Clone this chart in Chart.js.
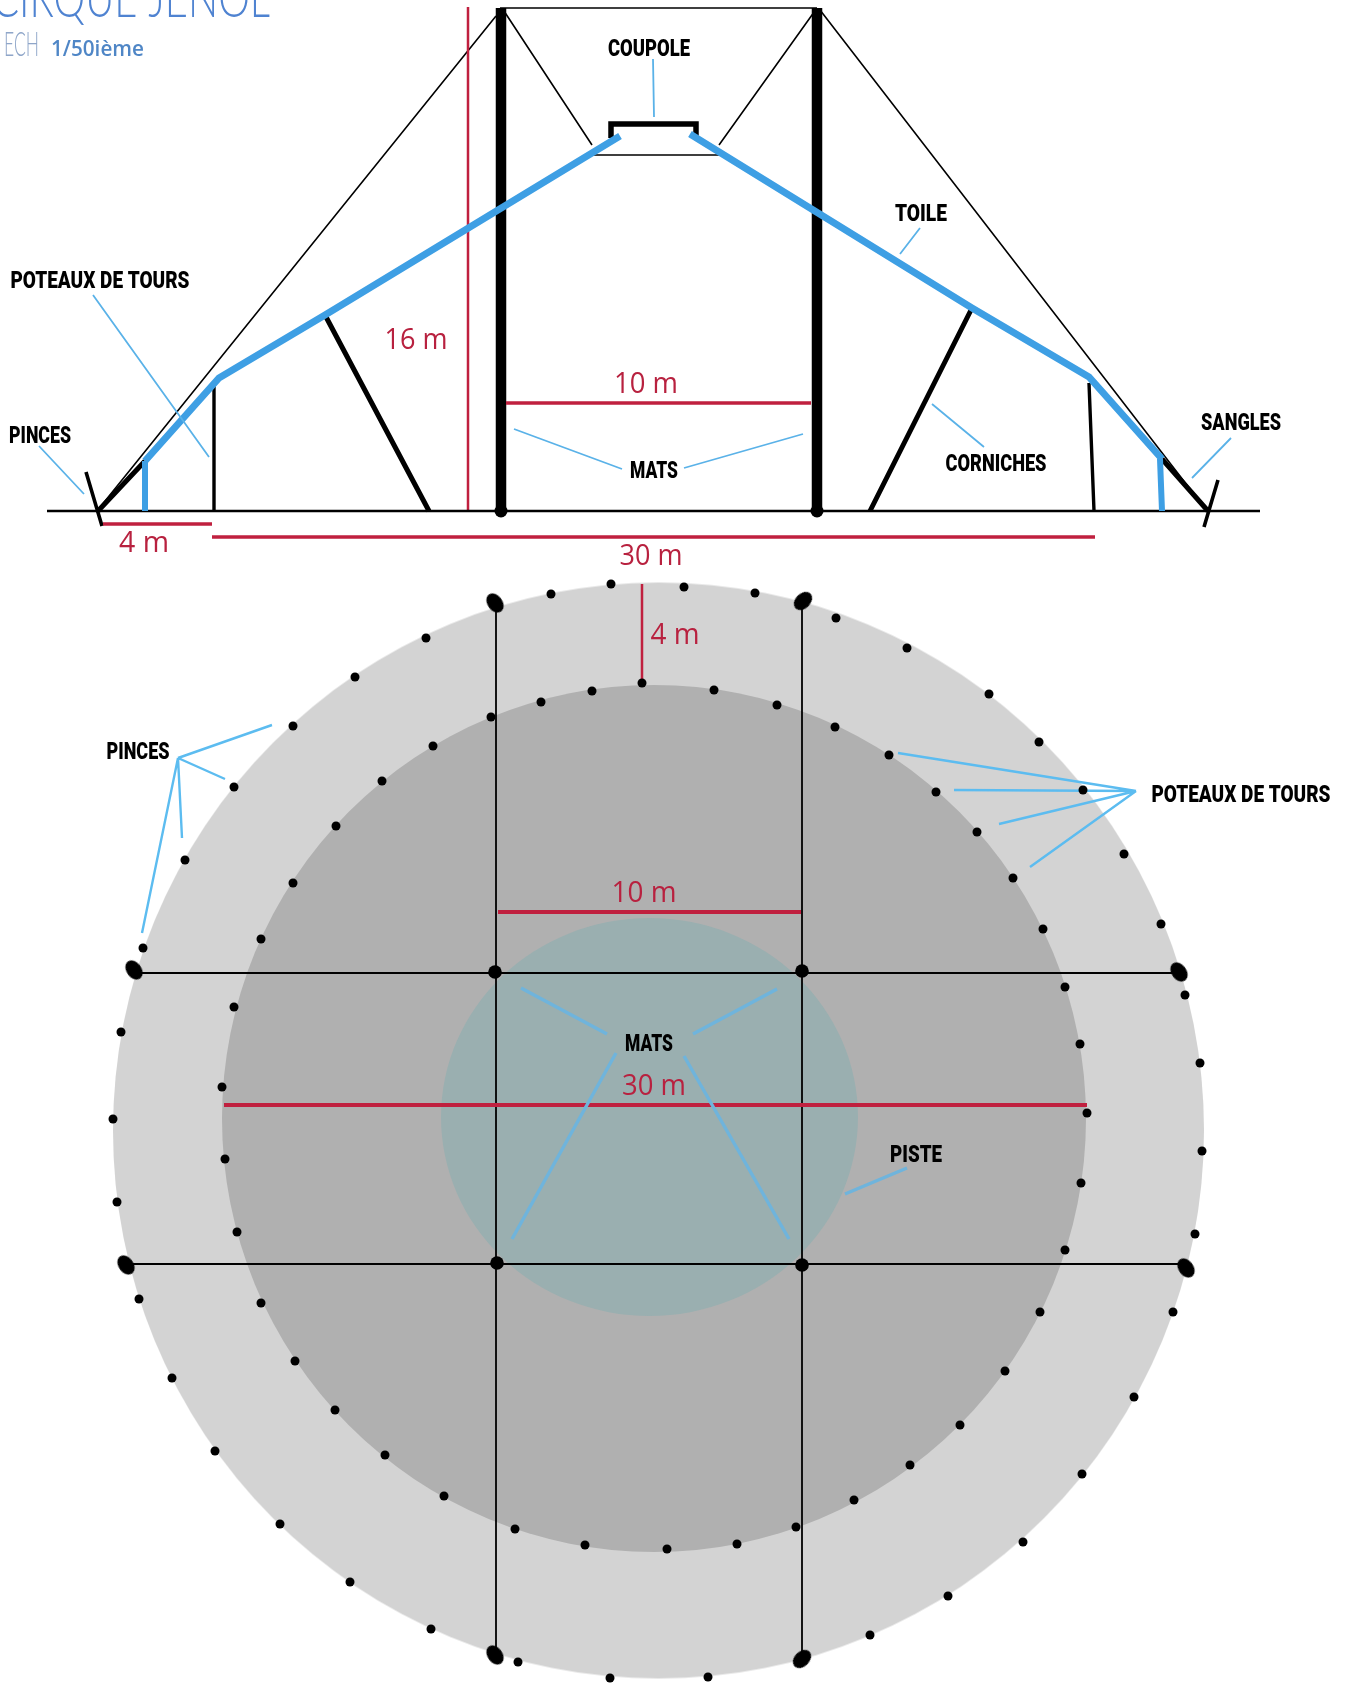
<!DOCTYPE html>
<html>
<head>
<meta charset="utf-8">
<title>Cirque</title>
<script src="https://cdn.jsdelivr.net/npm/chart.js@4/dist/chart.umd.min.js"></script>
<style>
 html, body {margin:0; padding:0; background:#fff;}
 canvas     {display:block;}
</style>
</head>
<body>
<canvas id="chart" width="1350" height="1685"></canvas>
<script>
// PLAN, STAKES AND POLES (x, y in drawing units)
var outer_dots = [[611,584],[684,587],[551,594],[755,593],[836,618],[426,638],[907,648],[355,677],[989,694],[293,726],[1039,742],[234,787],[1083,790],[185,860],[1124,854],[143,948],[1161,924],[121,1032],[1185,995],[113,1119],[1200,1063],[1202,1151],[117,1202],[1195,1234],[139,1299],[1173,1312],[172,1378],[1134,1397],[215,1451],[1082,1474],[280,1524],[1023,1542],[350,1582],[948,1596],[431,1629],[870,1635],[518,1662],[610,1678],[708,1677]];
var inner_dots = [[642,683],[592,691],[714,690],[541,702],[777,705],[491,717],[835,727],[433,746],[889,755],[382,781],[936,792],[336,826],[977,832],[293,883],[1013,878],[261,939],[1043,929],[234,1007],[1065,987],[222,1087],[1080,1044],[225,1159],[1087,1113],[1081,1183],[237,1232],[1065,1250],[261,1303],[1040,1312],[295,1361],[1005,1371],[335,1410],[960,1425],[385,1455],[910,1465],[444,1496],[854,1500],[515,1529],[796,1527],[585,1545],[737,1544],[667,1549]];
var anchor_nw  = [[495,603],[134,970],[126,1265],[1186,1268],[1179,972],[495,1655]];
var anchor_ne  = [[803,601],[802,1659]];
var mast_feet  = [[495,972],[802,971],[497,1263],[802,1265]];

var disc_outer = [[658.5,1130.5]];
var disc_inner = [[654,1118.5]];
var disc_piste = [[649.5,1117]];

var plan_lines = [[496,605,496,1655],[802,601,802,1659],[135,973,1180,973],[126,1264,1186,1264]];
var plan_red_thin  = [[642,584,642,683]];
var plan_red_bars  = [[498,912,801,912],[224,1105,1087,1105]];
var plan_leaders   = [[178,758,272,725],[178,758,225,779],[178,758,182,838],[178,758,142,933],
                      [1136,791,898,753],[1136,791,954,790],[1136,791,999,824],[1136,791,1030,867]];
var piste_leaders  = [[521,988,607,1034],[777,989,693,1034],[616,1053,512,1239],[684,1056,789,1239],[907,1168,845,1194]];

// ELEVATION
var ground     = [[47,511,1260,511]];
var masts      = [[501,8,501,511],[817,8,817,511]];
var mast_base  = [[501,511],[817,511]];
var thin_lines = [[500,8,817,8],[496,16,97,511],[820,10,1207,511],[502,8,592,145],[592,155,719,155],[719,145,817,8]];
var coupole    = [[611,138,611,124,696,124,696,138]];
var canvas_l   = [[620,136,325,315,219,378,145,461]];
var canvas_r   = [[690,134,972,308,1089,377,1162,459]];
var blue_posts = [[145,461,145,511],[1160,459,1162,511]];
var tour_posts = [[214,383,214,511],[1089,383,1094,511]];
var corniches  = [[325,315,429,511],[972,308,870,511]];
var straps     = [[98,511,145,461],[1162,459,1208,511]];
var stakes     = [[86,472,102,526],[1218,480,1204,527]];
var side_red_thin = [[468,7,468,511]];
var side_red_bars = [[103,524,212,524],[212,537,1095,537],[506,403,811,403]];
var side_leaders  = [[93,295,209,457],[653,59,654,117],[920,228,900,254],[39,446,84,494],[1231,438,1192,478],[514,429,622,469],[803,434,684,468],[932,404,984,447]];

// TEXT
var black_labels = [["COUPOLE",649,50,82],["TOILE",921,215,52],["POTEAUX DE TOURS",100,282,179],["PINCES",40,437,62],["SANGLES",1241,424,80],["MATS",654,472,48],["CORNICHES",996,465,101],["PINCES",138,753,63],["POTEAUX DE TOURS",1241,796,179],["MATS",649,1045,48],["PISTE",916,1156,52]];
var red_labels   = [["16 m",416,341,63],["10 m",646,385,64],["4 m",144,544,50],["30 m",651,557,63],["4 m",675,636,49],["10 m",644,894,65],["30 m",654,1087,64]];


function Polyline_Points(lines)
{
 var points = [];
 for(var line of lines)
 {
  for(var i = 0; i < line.length; i += 2) points.push({x:line[i], y:line[i + 1]});
  points.push({x:null, y:null});
 }

 return points;
}


function Dots_Points(dots)
{
 return dots.map(function(dot){return {x:dot[0], y:dot[1]}});
}


function Lines_Dataset(lines, color, width)
{
 return {type:"scatter", showLine:true, data:Polyline_Points(lines), borderColor:color, borderWidth:width, pointRadius:0, spanGaps:false, borderCapStyle:"butt", borderJoinStyle:"miter"};
}


function Dots_Dataset(dots, style)
{
 var dataset = {type:"scatter", data:Dots_Points(dots), showLine:false, borderWidth:0, pointBorderWidth:0};
 return Object.assign(dataset, style);
}


// ELLIPSE AS A POINT IMAGE, THE LIBRARY PLACES IT
function Ellipse_Sprite(rx, ry, color)
{
 var sprite    = document.createElement("canvas");
 sprite.width  = Math.ceil(rx * 2) + 2;
 sprite.height = Math.ceil(ry * 2) + 2;

 var context       = sprite.getContext("2d");
 context.fillStyle = color;
 context.beginPath();
 context.ellipse(sprite.width / 2, sprite.height / 2, rx, ry, 0, 0, Math.PI * 2);
 context.fill();

 return sprite;
}


function Sprite_Style(rx, ry, color, rotation)
{
 return {pointStyle:Ellipse_Sprite(rx, ry, color), pointRadius:4, pointRotation:rotation || 0, backgroundColor:color};
}


var labels_plugin =
{
 id:"labels",
 afterDatasetsDraw: function(chart)
 {
  var context = chart.ctx;
  var x_scale = chart.scales.x;
  var y_scale = chart.scales.y;

  function Draw(text, x, y, width, font, color, baseline)
  {
   context.save();
   context.font         = font;
   context.fillStyle    = color;
   context.textAlign    = "left";
   context.textBaseline = baseline || "middle";

   var scale = width / context.measureText(text).width;
   context.translate(x_scale.getPixelForValue(x), y_scale.getPixelForValue(y));
   context.scale(scale, 1);
   context.fillText(text, 0, 0);
   context.restore();
  }

  for(var label of black_labels) Draw(label[0], label[1] - label[3] / 2, label[2], label[3], "900 23px Roboto", "#000");
  for(var label of red_labels)   Draw(label[0], label[1] - label[3] / 2, label[2], label[3], "29px 'Open Sans'", "#b8213f");

  Draw("CIRQUE JENOL", -8, 17, 278, "300 56px Lato", "#4f83d1", "alphabetic");
  Draw("ECH", 4, 56, 35, "300 33px Lato", "#8fa6c9", "alphabetic");
  Draw("1/50ième", 51, 56, 93, "600 22px 'Open Sans'", "#4f86c6", "alphabetic");
 }
};


var datasets =
[
 Dots_Dataset(disc_outer, Sprite_Style(545.5, 548, "#d3d3d3")),
 Dots_Dataset(disc_inner, Sprite_Style(432, 433.5, "#b0b0b0")),
 Dots_Dataset(disc_piste, Sprite_Style(208.5, 199, "#9aafb0")),

 Lines_Dataset(plan_lines, "#000", 1.8),
 Lines_Dataset(plan_red_bars, "#c0203f", 4),
 Lines_Dataset(plan_red_thin, "#c0203f", 2.5),
 Lines_Dataset(plan_leaders, "#5cbcf0", 2.4),
 Lines_Dataset(piste_leaders, "#6fb4dc", 3.4),

 Dots_Dataset(outer_dots, {pointStyle:"circle", pointRadius:4.5, backgroundColor:"#000"}),
 Dots_Dataset(inner_dots, {pointStyle:"circle", pointRadius:4.5, backgroundColor:"#000"}),
 Dots_Dataset(mast_feet,  {pointStyle:"circle", pointRadius:6.8, backgroundColor:"#000"}),
 Dots_Dataset(anchor_nw,  Sprite_Style(7.5, 10.5, "#000", -35)),
 Dots_Dataset(anchor_ne,  Sprite_Style(7.5, 10.5, "#000", 45)),

 Lines_Dataset(thin_lines, "#000", 1.6),
 Lines_Dataset(side_red_thin, "#c0203f", 2.5),
 Lines_Dataset(ground, "#000", 2.4),
 Lines_Dataset(masts, "#000", 10.5),
 Dots_Dataset(mast_base, {pointStyle:"circle", pointRadius:6.5, backgroundColor:"#000"}),
 Lines_Dataset(tour_posts, "#000", 3.4),
 Lines_Dataset(corniches, "#000", 5),
 Lines_Dataset(straps, "#000", 5),
 Lines_Dataset(stakes, "#000", 3.6),
 Lines_Dataset(coupole, "#000", 5.5),
 Lines_Dataset(blue_posts, "#3e9fe4", 6),
 Lines_Dataset(canvas_l, "#3e9fe4", 7),
 Lines_Dataset(canvas_r, "#3e9fe4", 7),
 Lines_Dataset(side_red_bars, "#c0203f", 3.4),
 Lines_Dataset(side_leaders, "#5ab2e8", 1.8)
];

// FIRST IN THE LIST GOES AT THE BACK
datasets.forEach(function(dataset, i){dataset.order = datasets.length - i;});


var chart = new Chart(document.getElementById("chart").getContext("2d"),
{
 type:    "scatter",
 data:    {datasets},
 plugins: [labels_plugin],
 options:
 {
  responsive: false,
  animation:  false,
  events:     [],
  layout:     {padding:0, autoPadding:false},
  scales:
  {
   x: {type:"linear", display:false, min:0, max:1350},
   y: {type:"linear", display:false, min:0, max:1685, reverse:true}
  },
  plugins: {legend:{display:false}, tooltip:{enabled:false}}
 }
});
</script>
</body>
</html>
